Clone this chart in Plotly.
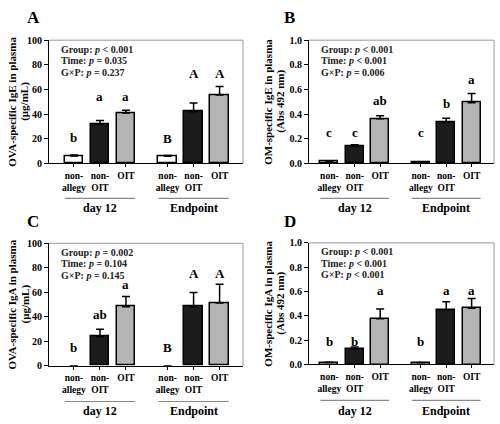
import plotly.graph_objects as go

# ---------------- data ----------------
categories = ["non-<br>allegy", "non-<br>OIT", "OIT", "non-<br>allegy", "non-<br>OIT", "OIT"]
xpos = [0, 1, 2, 3.6, 4.6, 5.6]
groups = ["day 12", "Endpoint"]

ige_ova = [6.0, 31.5, 41.0, 5.8, 42.0, 55.6]
ige_ova_err = [0.8, 3.3, 2.2, 0.6, 7.0, 6.8]
ige_ova_letters = ["b", "a", "a", "B", "A", "A"]
ige_ova_letter_y = [21, 54, 54, 20, 73, 73]

ige_om = [0.018, 0.138, 0.362, 0.008, 0.336, 0.493]
ige_om_err = [0.004, 0.013, 0.025, 0.002, 0.031, 0.075]
ige_om_letters = ["c", "c", "ab", "c", "b", "a"]
ige_om_letter_y = [0.25, 0.25, 0.51, 0.25, 0.49, 0.68]

iga_ova = [0.0, 23.7, 48.2, 0.0, 48.2, 51.3]
iga_ova_err = [0.0, 6.0, 8.4, 0.0, 11.5, 15.3]
iga_ova_letters = ["b", "ab", "a", "B", "A", "A"]
iga_ova_letter_y = [14.5, 42, 66, 14.5, 75, 75]

iga_om = [0.016, 0.124, 0.376, 0.013, 0.450, 0.463]
iga_om_err = [0.003, 0.020, 0.080, 0.002, 0.066, 0.079]
iga_om_letters = ["b", "b", "a", "b", "a", "a"]
iga_om_letter_y = [0.185, 0.185, 0.61, 0.185, 0.61, 0.61]

stats = {
    "A": ["Group: <i>p</i> < 0.001", "Time: <i>p</i> = 0.035", "G×P: <i>p</i> = 0.237"],
    "B": ["Group: <i>p</i> < 0.001", "Time: <i>p</i> < 0.001", "G×P: <i>p</i> = 0.006"],
    "C": ["Group: <i>p</i> = 0.002", "Time: <i>p</i> = 0.104", "G×P: <i>p</i> = 0.145"],
    "D": ["Group: <i>p</i> < 0.001", "Time: <i>p</i> < 0.001", "G×P: <i>p</i> < 0.001"],
}
ytitles = {
    "A": ["OVA-specific IgE in plasma", "(μg/mL)"],
    "B": ["OM-specific IgE in plasma", "(Abs 492 nm)"],
    "C": ["OVA-specific IgA in plasma", "(μg/mL)"],
    "D": ["OM-specific IgA in plasma", "(Abs 492 nm)"],
}

bar_colors = ["white", "#1c1c1c", "#b4b4b4", "white", "#1c1c1c", "#b4b4b4"]

FONT = "Liberation Serif"

panels = [
    ("A", ige_ova, ige_ova_err, ige_ova_letters, ige_ova_letter_y,
     [0.098, 0.486], [0.618, 0.917], [-0.96, 6.5], [0, 100], 20, "d"),
    ("B", ige_om, ige_om_err, ige_om_letters, ige_om_letter_y,
     [0.618, 0.988], [0.618, 0.917], [-0.80, 6.48], [0, 1.0], 0.2, ".1f"),
    ("C", iga_ova, iga_ova_err, iga_ova_letters, iga_ova_letter_y,
     [0.098, 0.486], [0.127, 0.424], [-0.96, 6.5], [0, 100], 20, "d"),
    ("D", iga_om, iga_om_err, iga_om_letters, iga_om_letter_y,
     [0.618, 0.988], [0.130, 0.425], [-0.80, 6.48], [0, 1.0], 0.2, ".1f"),
]

group_line_y = {"A": 0.533, "B": 0.533, "C": 0.040, "D": 0.043}
group_text_y = {"A": 0.509, "B": 0.509, "C": 0.0165, "D": 0.017}
letter_pos = {"A": (0.066, 0.972), "B": (0.578, 0.972), "C": (0.066, 0.476), "D": (0.580, 0.476)}
ytitle_x = {"A": (0.024, 0.050), "B": (0.536, 0.562), "C": (0.024, 0.050), "D": (0.536, 0.562)}

fig = go.Figure()
annotations = []
shapes = []

for i, (key, vals, errs, letters, ly, xd, yd, xr, yr, dt, fmt) in enumerate(panels):
    n = "" if i == 0 else str(i + 1)
    xa, ya = "x" + n, "y" + n
    fig.add_trace(go.Bar(
        x=xpos, y=vals, xaxis=xa, yaxis=ya, width=0.7,
        marker=dict(color=bar_colors,
                    line=dict(color="black", width=[1.5 if v > 0 else 0 for v in vals])),
        error_y=dict(type="data", symmetric=False, array=errs,
                     arrayminus=[0] * len(errs), color="black",
                     thickness=1.5, width=4),
        showlegend=False, hoverinfo="skip",
    ))
    fig.update_layout({
        "xaxis" + n: dict(domain=xd, range=xr, anchor=ya, tickvals=xpos,
                          ticktext=categories, showline=True, linecolor="black",
                          linewidth=1, ticks="outside", ticklen=3, tickcolor="black",
                          showgrid=False, zeroline=False, fixedrange=True,
                          tickfont=dict(family=FONT, size=9.5, color="black", weight="bold")),
        "yaxis" + n: dict(domain=yd, range=yr, anchor=xa, dtick=dt, tickformat=fmt,
                          showline=True, linecolor="black", linewidth=1,
                          ticks="outside", ticklen=4, tickcolor="black",
                          showgrid=False, zeroline=False, fixedrange=True,
                          tickfont=dict(family=FONT, size=10, color="black", weight="bold")),
    })
    shapes.append(dict(type="line", xref=xa + " domain", yref=ya + " domain",
                       x0=0, x1=1, y0=1, y1=1, line=dict(color="#9a9a9a", width=1)))
    shapes.append(dict(type="line", xref=xa + " domain", yref=ya + " domain",
                       x0=1, x1=1, y0=0, y1=1, line=dict(color="#9a9a9a", width=1)))
    for xv, t, yv in zip(xpos, letters, ly):
        annotations.append(dict(x=xv, y=yv, xref=xa, yref=ya, text=t, showarrow=False,
                                font=dict(family=FONT, size=13, color="black", weight="bold")))
    for li, line in enumerate(stats[key]):
        annotations.append(dict(x=0, y=1, xref=xa + " domain", yref=ya + " domain",
                                xanchor="left", yanchor="middle", align="left", showarrow=False,
                                xshift=10, yshift=-(9 + 11.5 * li),
                                text=line,
                                font=dict(family=FONT, size=10, color="#222", weight="bold")))
    for gi, g in enumerate(groups):
        x0 = xpos[gi * 3] - 0.35
        x1 = xpos[gi * 3 + 2] + 0.35
        shapes.append(dict(type="line", xref=xa, yref="paper", x0=x0, x1=x1,
                           y0=group_line_y[key], y1=group_line_y[key],
                           line=dict(color="#8a8a8a", width=1.2)))
        annotations.append(dict(x=(x0 + x1) / 2, y=group_text_y[key], xref=xa, yref="paper",
                                text=g, showarrow=False, yanchor="middle",
                                font=dict(family=FONT, size=12, color="black", weight="bold")))
    lx, lyp = letter_pos[key]
    annotations.append(dict(x=lx, y=lyp, xref="paper", yref="paper", text=key,
                            showarrow=False, xanchor="center", yanchor="middle",
                            font=dict(family=FONT, size=17, color="black", weight="bold")))
    yc = (yd[0] + yd[1]) / 2
    for tx, t in zip(ytitle_x[key], ytitles[key]):
        annotations.append(dict(x=tx, y=yc, xref="paper", yref="paper", text=t,
                                textangle=-90, showarrow=False, xanchor="center",
                                yanchor="middle",
                                font=dict(family=FONT, size=11, color="black", weight="bold")))

fig.update_layout(
    width=500, height=424, margin=dict(l=0, r=0, t=0, b=0),
    paper_bgcolor="white", plot_bgcolor="white",
    annotations=annotations, shapes=shapes, bargap=0,
)

fig.write_html("out.html", config={"displayModeBar": False},
               post_script="document.body.style.margin='0';")
